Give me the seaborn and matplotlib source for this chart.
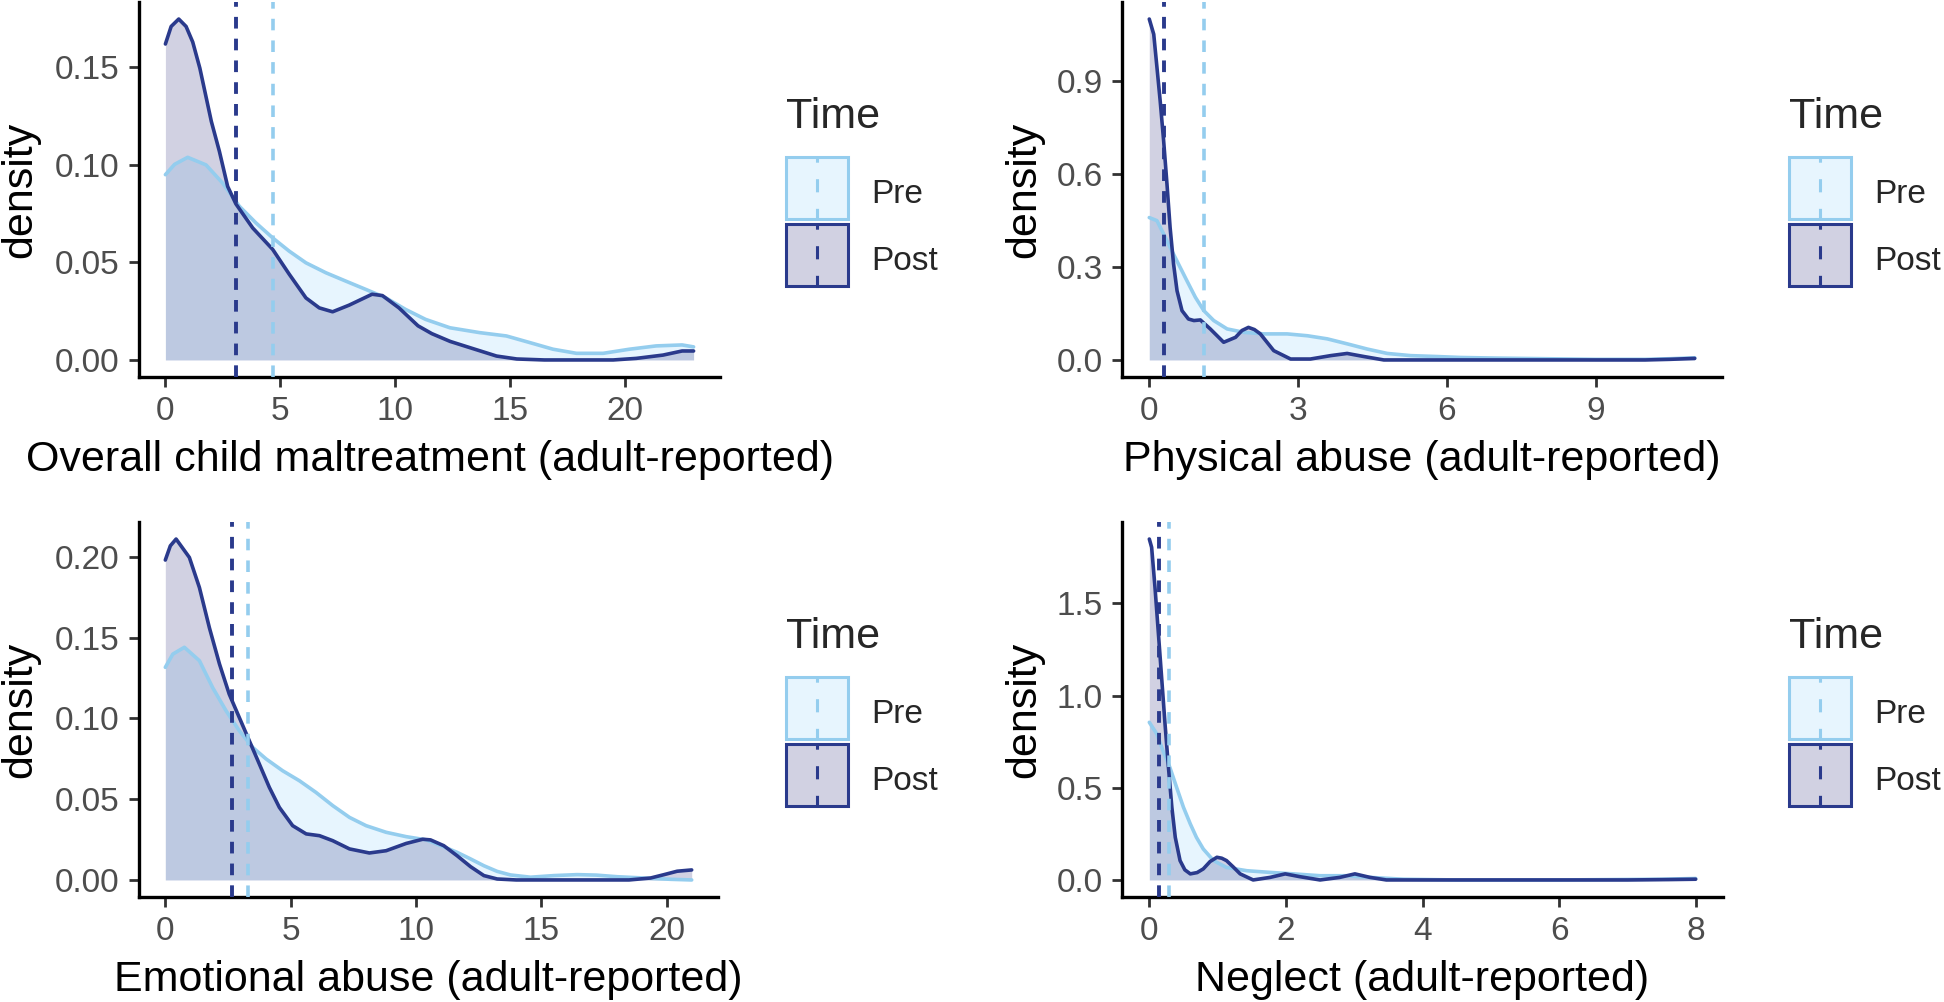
import numpy as np
import pandas as pd
import matplotlib
matplotlib.use("Agg")
import matplotlib.pyplot as plt
import seaborn as sns
from matplotlib.patches import Rectangle, Patch
from matplotlib.lines import Line2D
from matplotlib.legend_handler import HandlerBase

# ---------------- data ----------------
# Panel 1: Overall child maltreatment
overall_post_x = [0, 0.25, 0.58, 0.9, 1.19, 1.5, 2.0, 2.35, 2.71, 3.07, 3.8, 4.67, 5.39, 6.12, 6.7, 7.28,
                  8.0, 9.0, 9.45, 10.17, 11.0, 11.6, 12.4, 13.26, 14.42, 15.3, 16.5, 18.0, 19.5, 20.5,
                  21.67, 22.5, 23.0]
overall_post_y = [0.162, 0.171, 0.1748, 0.171, 0.163, 0.1496, 0.1223, 0.107, 0.089, 0.080, 0.0677, 0.0567,
                  0.044, 0.0318, 0.0267, 0.0247, 0.0281, 0.0337, 0.033, 0.0267, 0.0175, 0.0135, 0.0095,
                  0.0063, 0.002, 0.0005, 0.0, 0.0, 0.0, 0.0008, 0.0025, 0.0046, 0.0046]
overall_pre_x = [0, 0.4, 0.97, 1.77, 2.49, 3.22, 3.94, 4.67, 5.39, 6.12, 6.99, 7.86, 8.72, 9.59, 10.46,
                 11.33, 12.39, 13.69, 14.85, 15.87, 16.88, 17.9, 19.06, 20.2, 21.37, 22.5, 23.0]
overall_pre_y = [0.095, 0.1003, 0.1039, 0.100, 0.0907, 0.0788, 0.0703, 0.0626, 0.0558, 0.0498, 0.0447,
                 0.0404, 0.0362, 0.0319, 0.0259, 0.0208, 0.0165, 0.014, 0.0123, 0.0089, 0.0055, 0.0034,
                 0.0034, 0.0055, 0.0072, 0.0077, 0.0067]

# Panel 2: Physical abuse
physical_post_x = [0, 0.09, 0.155, 0.22, 0.29, 0.357, 0.42, 0.49, 0.56, 0.66, 0.79, 0.9, 1.03, 1.23, 1.5,
                   1.74, 1.87, 2.0, 2.12, 2.24, 2.51, 2.85, 3.25, 3.66, 3.99, 4.33, 4.73, 6.0, 8.0, 10.0,
                   10.5, 11.0]
physical_post_y = [1.099, 1.050, 0.943, 0.835, 0.706, 0.567, 0.427, 0.309, 0.223, 0.159, 0.132, 0.127,
                   0.129, 0.100, 0.057, 0.073, 0.095, 0.105, 0.098, 0.084, 0.030, 0.003, 0.003, 0.014,
                   0.021, 0.011, 0.0, 0.0, 0.0, 0.0, 0.002, 0.005]
physical_pre_x = [0, 0.155, 0.29, 0.42, 0.59, 0.76, 0.93, 1.1, 1.3, 1.57, 1.91, 2.31, 2.78, 3.19, 3.59,
                  3.99, 4.4, 4.8, 5.27, 5.81, 6.28, 7.0, 8.0, 9.0, 10.0, 10.5, 11.0]
physical_pre_y = [0.459, 0.449, 0.406, 0.363, 0.309, 0.255, 0.202, 0.159, 0.127, 0.100, 0.089, 0.084,
                  0.084, 0.078, 0.068, 0.052, 0.035, 0.021, 0.014, 0.011, 0.008, 0.006, 0.004, 0.002,
                  0.002, 0.004, 0.007]

# Panel 3: Emotional abuse
emotional_post_x = [0, 0.2, 0.43, 0.96, 1.36, 1.76, 2.16, 2.55, 2.95, 3.35, 3.75, 4.15, 4.55, 5.08, 5.62,
                    6.15, 6.68, 7.35, 8.14, 8.81, 9.61, 10.27, 10.58, 11.11, 11.64, 12.18, 12.71, 13.24,
                    14.0, 16.0, 18.5, 19.36, 19.9, 20.42, 21.0]
emotional_post_y = [0.198, 0.2068, 0.211, 0.1996, 0.181, 0.156, 0.1337, 0.115, 0.1006, 0.0862, 0.0718,
                    0.0573, 0.0449, 0.0336, 0.0285, 0.0274, 0.0243, 0.0192, 0.0167, 0.0181, 0.0226, 0.0252,
                    0.0248, 0.0212, 0.015, 0.0082, 0.0027, 0.0006, 0.0, 0.0, 0.0, 0.0012, 0.0033, 0.0054,
                    0.0062]
emotional_pre_x = [0, 0.3, 0.76, 1.36, 1.89, 2.42, 2.95, 3.49, 4.02, 4.68, 5.35, 6.01, 6.68, 7.35, 8.01,
                   8.81, 9.61, 10.41, 11.11, 11.64, 12.18, 12.71, 13.24, 13.77, 14.57, 15.5, 16.43, 17.2,
                   18.03, 19.1, 20.16, 21.0]
emotional_pre_y = [0.1316, 0.1398, 0.144, 0.1357, 0.119, 0.1048, 0.0924, 0.082, 0.0749, 0.0676, 0.0614,
                   0.0542, 0.046, 0.0387, 0.0336, 0.0295, 0.0268, 0.0248, 0.0205, 0.0171, 0.013, 0.0088,
                   0.0053, 0.0031, 0.0017, 0.0027, 0.0033, 0.003, 0.002, 0.0012, 0.0004, 0.0]

# Panel 4: Neglect
neglect_post_x = [0, 0.034, 0.083, 0.13, 0.18, 0.23, 0.28, 0.33, 0.38, 0.45, 0.52, 0.6, 0.7, 0.79, 0.89,
                  0.99, 1.06, 1.13, 1.23, 1.33, 1.52, 1.77, 1.99, 2.2, 2.5, 2.79, 3.01, 3.23, 3.47, 5.0,
                  7.0, 7.6, 8.0]
neglect_post_y = [1.849, 1.804, 1.587, 1.352, 1.099, 0.846, 0.611, 0.394, 0.231, 0.105, 0.055, 0.033,
                  0.040, 0.060, 0.100, 0.123, 0.118, 0.105, 0.070, 0.033, 0.0, 0.014, 0.033, 0.018, 0.0,
                  0.014, 0.033, 0.014, 0.0, 0.0, 0.0, 0.002, 0.004]
neglect_pre_x = [0, 0.11, 0.2, 0.30, 0.40, 0.50, 0.60, 0.69, 0.79, 0.94, 1.13, 1.43, 1.77, 2.11, 2.5,
                 2.89, 3.23, 3.72, 4.5, 6.0, 7.5, 8.0]
neglect_pre_y = [0.855, 0.792, 0.701, 0.611, 0.502, 0.394, 0.304, 0.231, 0.168, 0.105, 0.068, 0.050,
                 0.041, 0.033, 0.023, 0.023, 0.014, 0.004, 0.0, 0.0, 0.004, 0.008]

# means (dashed lines)
mean_pre = {"overall": 4.67, "physical": 1.11, "emotional": 3.29, "neglect": 0.293}
mean_post = {"overall": 3.09, "physical": 0.30, "emotional": 2.66, "neglect": 0.142}

xlabels = {"overall": "Overall child maltreatment (adult-reported)",
           "physical": "Physical abuse (adult-reported)",
           "emotional": "Emotional abuse (adult-reported)",
           "neglect": "Neglect (adult-reported)"}
xticks = {"overall": [0, 5, 10, 15, 20], "physical": [0, 3, 6, 9],
          "emotional": [0, 5, 10, 15, 20], "neglect": [0, 2, 4, 6, 8]}
yticks = {"overall": [0, 0.05, 0.10, 0.15], "physical": [0, 0.3, 0.6, 0.9],
          "emotional": [0, 0.05, 0.10, 0.15, 0.20], "neglect": [0, 0.5, 1.0, 1.5]}
yfmt = {"overall": "{:.2f}", "physical": "{:.1f}", "emotional": "{:.2f}", "neglect": "{:.1f}"}

curves = {
    "overall": (overall_pre_x, overall_pre_y, overall_post_x, overall_post_y),
    "physical": (physical_pre_x, physical_pre_y, physical_post_x, physical_post_y),
    "emotional": (emotional_pre_x, emotional_pre_y, emotional_post_x, emotional_post_y),
    "neglect": (neglect_pre_x, neglect_pre_y, neglect_post_x, neglect_post_y),
}

# ---------------- style ----------------
sns.set_style("ticks")
plt.rcParams["font.family"] = ["Liberation Sans", "DejaVu Sans"]
plt.rcParams["lines.solid_capstyle"] = "round"
plt.rcParams["lines.solid_joinstyle"] = "round"

PRE_LINE = "#94CDEE"
POST_LINE = "#2A3A8C"
PRE_FILL = (135 / 255, 206 / 255, 250 / 255, 0.2)
POST_FILL = (25 / 255, 25 / 255, 112 / 255, 0.2)
palette = {"Pre": PRE_LINE, "Post": POST_LINE}

W, H = 1944, 1002
fig = plt.figure(figsize=(W / 100, H / 100), dpi=100)

layout = {  # left, top, width px
    "overall": (139, 2, 581),
    "physical": (1122, 2, 600),
    "emotional": (139, 522, 579),
    "neglect": (1122, 522, 601),
}
AX_H = 375
ylab_off = {"overall": -119, "physical": -98, "emotional": -119, "neglect": -98}
legend_x = {"overall": 786, "physical": 1789, "emotional": 786, "neglect": 1789}
KEY_SHIFT = 3.6  # points: keys sit slightly higher than the label baseline row


class KeyHandler(HandlerBase):
    def create_artists(self, legend, orig, xdescent, ydescent, width, height, fontsize, trans):
        y0 = -ydescent + KEY_SHIFT
        r = Rectangle((-xdescent, y0), width, height, facecolor=orig.get_facecolor(),
                      edgecolor=orig.get_edgecolor(), lw=2.2, transform=trans)
        xm = -xdescent + width / 2
        l = Line2D([xm, xm], [y0 + height, y0], color=orig.get_edgecolor(),
                   lw=2.2, ls=(2.6, (4.3, 5.4)), transform=trans)
        return [r, l]


for key, (left, top, width) in layout.items():
    ax = fig.add_axes([left / W, 1 - (top + AX_H) / H, width / W, AX_H / H])
    prx, pry, pox, poy = curves[key]
    df = pd.concat([
        pd.DataFrame({"x": prx, "density": pry, "Time": "Pre"}),
        pd.DataFrame({"x": pox, "density": poy, "Time": "Post"}),
    ], ignore_index=True)

    ax.fill_between(prx, pry, 0, color=PRE_FILL, lw=0, zorder=1)
    ax.fill_between(pox, poy, 0, color=POST_FILL, lw=0, zorder=2)
    sns.lineplot(data=df, x="x", y="density", hue="Time", palette=palette, hue_order=["Pre", "Post"],
                 estimator=None, sort=False, lw=2.6, legend=False, ax=ax, zorder=3)
    ax.axvline(mean_pre[key], color=PRE_LINE, lw=2.6, ls=(0, (3.2, 2.8)), zorder=4)
    ax.axvline(mean_post[key], color=POST_LINE, lw=2.8, ls=(0, (3.0, 2.6)), zorder=5)

    xmax = max(max(prx), max(pox))
    ymax = max(max(pry), max(poy))
    ax.set_xlim(-0.05 * xmax, 1.05 * xmax)
    ax.set_ylim(-0.05 * ymax, 1.05 * ymax)
    ax.set_xticks(xticks[key])
    ax.set_xticklabels([str(t) for t in xticks[key]])
    ax.set_yticks(yticks[key])
    ax.set_yticklabels([yfmt[key].format(t) for t in yticks[key]])

    sns.despine(ax=ax)
    for s in ["left", "bottom"]:
        ax.spines[s].set_linewidth(2.4)
        ax.spines[s].set_color("black")
    ax.tick_params(axis="both", length=7, width=2.0, color="#333333", labelsize=24,
                   labelcolor="#4D4D4D", pad=7)

    ax.set_xlabel(xlabels[key], fontsize=31, color="black")
    ax.xaxis.label.set_va("center")
    ax.xaxis.set_label_coords(0.5, -83 / AX_H)
    ax.set_ylabel("density", fontsize=31, color="black")
    ax.yaxis.label.set_va("center")
    ax.yaxis.label.set_ha("center")
    ax.yaxis.set_label_coords(ylab_off[key] / width, 0.5)

    handles = [Patch(facecolor=PRE_FILL, edgecolor=PRE_LINE), Patch(facecolor=POST_FILL, edgecolor=POST_LINE)]
    leg_top = top + 95
    leg = ax.legend(handles, ["Pre", "Post"], title="Time", loc="upper left",
                    bbox_to_anchor=(legend_x[key] / W, 1 - leg_top / H), bbox_transform=fig.transFigure,
                    frameon=False, fontsize=24, title_fontsize=31, handlelength=1.86, handleheight=2.48,
                    handletextpad=0.69, labelspacing=0.15, borderpad=0, borderaxespad=0,
                    alignment="left", handler_map={Patch: KeyHandler()})
    leg._legend_box.sep = 17.8

fig.savefig("out.png", dpi=100, facecolor="white")
